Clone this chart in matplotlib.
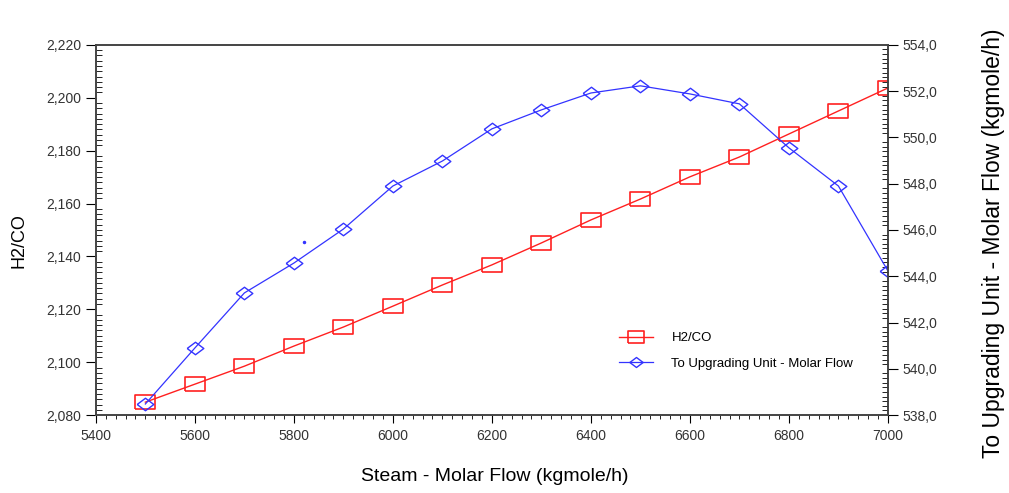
import matplotlib.pyplot as plt
from matplotlib.ticker import AutoMinorLocator, FuncFormatter, MultipleLocator

plt.rcParams['font.family'] = ['Liberation Sans', 'DejaVu Sans']

steam_flow = [5500, 5600, 5700, 5800, 5900, 6000, 6100, 6200,
              6300, 6400, 6500, 6600, 6700, 6800, 6900, 7000]
h2_co = [2.0849, 2.0917, 2.0985, 2.1061, 2.1133, 2.1212, 2.1292, 2.1368,
         2.1451, 2.1538, 2.1617, 2.1701, 2.1776, 2.1863, 2.1950, 2.2037]
upgrading_flow = [538.48, 540.90, 543.28, 544.57, 546.04, 547.90, 548.98, 550.37,
                  551.19, 551.92, 552.23, 551.88, 551.45, 549.55, 547.90, 544.23]
# stray point visible in the original export
stray_x = [5820]
stray_y = [545.5]

fig = plt.figure(figsize=(10.09, 4.93), dpi=100)
ax = fig.add_axes([0.095, 0.158, 0.785, 0.751])
ax2 = ax.twinx()

red = '#ff2020'
blue = '#3333ff'
rect = [(-1.3, -1), (1.3, -1), (1.3, 1), (-1.3, 1), (-1.3, -1)]
diamond = [(-1, 0), (0, 0.75), (1, 0), (0, -0.75), (-1, 0)]

l1, = ax.plot(steam_flow, h2_co, color=red, lw=1, marker=rect, ms=14,
              mfc='none', mec=red, mew=1.2, label='H2/CO')
l2, = ax2.plot(steam_flow, upgrading_flow, color=blue, lw=0.9, marker=diamond, ms=12,
               mfc='none', mec=blue, mew=1, label='To Upgrading Unit - Molar Flow')
ax2.plot(stray_x, stray_y, ls='none', marker='.', ms=3, color=blue)

ax.set_xlim(5400, 7000)
ax.set_ylim(2.08, 2.22)
ax2.set_ylim(538, 554)

ax.xaxis.set_major_locator(MultipleLocator(200))
ax.xaxis.set_minor_locator(AutoMinorLocator(10))
ax.yaxis.set_major_locator(MultipleLocator(0.02))
ax.yaxis.set_minor_locator(AutoMinorLocator(10))
ax2.yaxis.set_major_locator(MultipleLocator(2))
ax2.yaxis.set_minor_locator(AutoMinorLocator(10))

ax.yaxis.set_major_formatter(FuncFormatter(lambda v, p: f"{v:.3f}".replace('.', ',')))
ax2.yaxis.set_major_formatter(FuncFormatter(lambda v, p: f"{v:.1f}".replace('.', ',')))

tick_col = '#333333'
ax.tick_params(axis='x', which='major', length=6, direction='out', labelsize=10,
               labelcolor=tick_col, pad=4)
ax.tick_params(axis='x', which='minor', length=3, direction='out')
ax.tick_params(axis='y', which='major', length=7, direction='out', labelsize=10,
               labelcolor=tick_col)
ax.tick_params(axis='y', which='minor', length=4, direction='in')
ax2.tick_params(axis='y', which='major', length=7, direction='out', labelsize=10,
                labelcolor=tick_col)
ax2.tick_params(axis='y', which='minor', length=4, direction='in')

for a in (ax, ax2):
    for s in a.spines.values():
        s.set_color('#444444')
        s.set_linewidth(1.2)

# axis titles placed on the figure to match the original layout
fig.text(0.49, 0.034, 'Steam - Molar Flow (kgmole/h)', fontsize=14,
         ha='center', va='center')
fig.text(0.019, 0.513, 'H2/CO', fontsize=13, rotation=90,
         ha='center', va='center')
fig.text(0.985, 0.07, 'To Upgrading Unit - Molar Flow (kgmole/h)', fontsize=16.5,
         rotation=90, ha='center', va='bottom')

ax.legend(handles=[l1, l2], loc='lower left', bbox_to_anchor=(0.645, 0.09),
          frameon=False, fontsize=9.5, handlelength=2.6, handletextpad=1.4,
          labelspacing=1.0, markerscale=0.8)

fig.savefig('out.png', dpi=100)
